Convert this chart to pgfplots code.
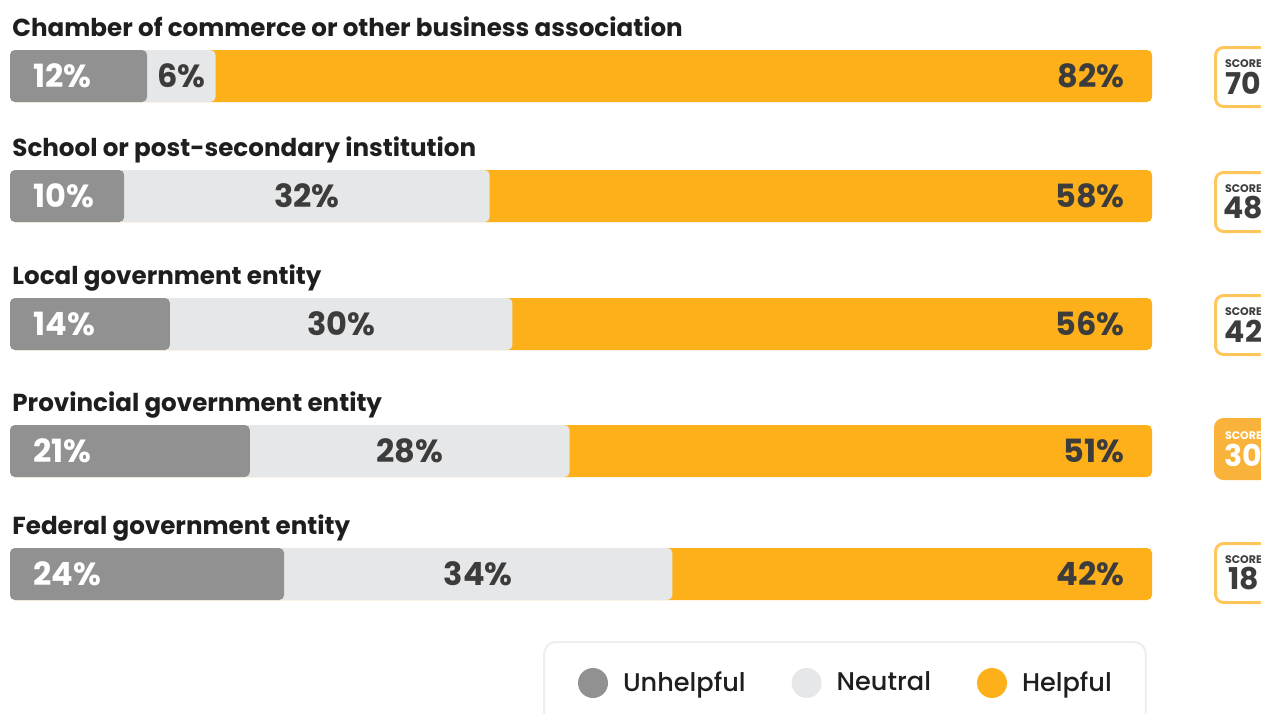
\documentclass[border=0pt]{standalone}
\usepackage{pgfplots}
\usepackage{pgfplotstable}
\pgfplotsset{compat=1.18}
\usepackage{fontspec}
\setmainfont{Poppins}
\newfontfamily\legfont{Poppins Medium}

\definecolor{cUn}{HTML}{919191}
\definecolor{cNe}{HTML}{E6E7E8}
\definecolor{cHe}{HTML}{FDB01A}
\definecolor{cTxt}{HTML}{3C3C3C}
\definecolor{cTitle}{HTML}{1E1E1E}
\definecolor{cEdge}{HTML}{FFC65C}
\definecolor{cHi}{HTML}{F9B23A}
\definecolor{cLeg}{HTML}{EEEEEE}

% y = bar centre in pixels from the top
\pgfplotstableread[col sep=comma]{
y,un,ne,he,label
76,12,6,82,Chamber of commerce or other business association
196,10,32,58,School or post-secondary institution
324,14,30,56,Local government entity
451,21,28,51,Provincial government entity
574,24,34,42,Federal government entity
}\rows

\pgfplotstableread{
sy score
77 70
202 48
325 42
573 18
}\scores

\pgfplotstableread{
sy score
449 30
}\scorehi

\pgfplotsset{
  seg/.style={xbar, bar width=26pt, bar shift=0pt, draw=none, rounded corners=2.5pt, forget plot},
  lab/.style={draw=none, mark=none, forget plot, point meta=explicit symbolic,
    nodes near coords={\pgfplotspointmeta\%}},
  pct/.style={nodes near coords style={inner sep=0pt, font=\bfseries\fontsize{16}{16}\selectfont, #1}},
  legdot/.style={legend image code/.code={\fill[##1] (0pt,0pt) circle (7.5pt);}},
  scorebox/.style={nodes near coords={{\fontsize{5.5}{6}\selectfont SCORE}\\\pgfplotspointmeta},
    nodes near coords style={anchor=west, line width=1.5pt, rounded corners=4pt,
      font=\bfseries\fontsize{15}{13.2}\selectfont,
      minimum width=28pt, minimum height=29.5pt, align=center, inner sep=0pt, #1}},
}

\begin{document}
\begin{tikzpicture}
\useasboundingbox (0,0) rectangle (630.5pt,356.5pt);
\clip (0,0) rectangle (630.5pt,356.5pt);
\begin{axis}[at={(0pt,0pt)}, anchor=south west, scale only axis,
  width=630.5pt, height=356.5pt,
  xmin=-0.8757, xmax=109.545, ymin=0, ymax=713, y dir=reverse,
  hide axis, clip=false,
  legend columns=3, legend cell align=left,
  legend style={at={(0.4306,0.1010)}, anchor=north west, draw=cLeg, line width=1pt,
    rounded corners=6pt, fill=white, inner xsep=17pt, inner ysep=13pt,
    font=\legfont\fontsize{12.8}{15}\selectfont, text=cTitle, nodes={inner sep=0pt},
    /tikz/every odd column/.append style={column sep=7.5pt},
    /tikz/every even column/.append style={column sep=23pt}},
]
% bars, drawn back to front
\addplot[seg, fill=cHe] table[x expr=\thisrow{un}+\thisrow{ne}+\thisrow{he}, y=y] {\rows};
\addplot[seg, fill=cNe] table[x expr=\thisrow{un}+\thisrow{ne}, y=y] {\rows};
\addplot[seg, fill=cUn] table[x=un, y=y] {\rows};

% percentages
\addplot[lab, pct={anchor=west, text=white}] table[x expr=2.01, y=y, meta=un] {\rows};
\addplot[lab, pct={anchor=center, text=cTxt}] table[x expr=\thisrow{un}+\thisrow{ne}/2, y=y, meta=ne] {\rows};
\addplot[lab, pct={anchor=east, text=cTxt}] table[x expr=97.64, y=y, meta=he] {\rows};

% category titles
\addplot[lab, nodes near coords={\pgfplotspointmeta},
  nodes near coords style={anchor=base west, inner sep=0pt, text=cTitle,
    font=\bfseries\fontsize{12.3}{13}\selectfont}]
  table[x expr=0.175, y expr=\thisrow{y}-40, meta=label] {\rows};

% score boxes
\addplot[lab, scorebox={draw=cEdge, fill=white, text=cTxt}] table[x expr=105.43, y=sy, meta=score] {\scores};
\addplot[lab, scorebox={draw=cHi, fill=cHi, text=white}] table[x expr=105.43, y=sy, meta=score] {\scorehi};

\addlegendimage{legdot, fill=cUn, draw=none}
\addlegendentry{Unhelpful}
\addlegendimage{legdot, fill=cNe, draw=none}
\addlegendentry{Neutral}
\addlegendimage{legdot, fill=cHe, draw=none}
\addlegendentry{Helpful}
\end{axis}
\end{tikzpicture}
\end{document}
